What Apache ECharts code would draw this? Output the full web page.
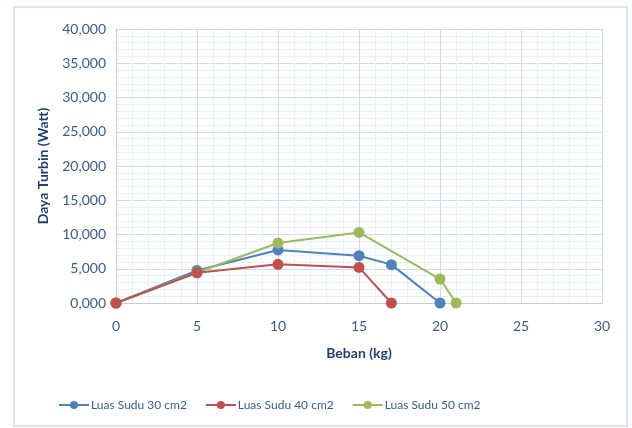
<!DOCTYPE html>
<html>
<head>
<meta charset="utf-8">
<script src="https://cdn.jsdelivr.net/npm/echarts@6/dist/echarts.min.js"></script>
<style>
  html, body { margin: 0; padding: 0; background: #fff; }
  #chart { width: 632px; height: 428px; }
</style>
</head>
<body>
<div id="chart"></div>
<script>
// Beban (kg) for each series and the measured turbine power (Watt)
const beban30 = [0, 5, 10, 15, 17, 20];
const daya30  = [0, 4.75, 7.75, 6.9, 5.6, 0];

const beban40 = [0, 5, 10, 15, 17];
const daya40  = [0, 4.4, 5.65, 5.2, 0];

const beban50 = [0, 5, 10, 15, 20, 21];
const daya50  = [0, 4.45, 8.75, 10.3, 3.5, 0];

const seriesNames = ['Luas Sudu 30 cm2', 'Luas Sudu 40 cm2', 'Luas Sudu 50 cm2'];
const seriesColors = ['#4f81bd', '#c0504d', '#9bbb59'];

const pairs = (xs, ys) => xs.map((x, i) => [x, ys[i]]);
const dataSets = [pairs(beban30, daya30), pairs(beban40, daya40), pairs(beban50, daya50)];

const textColor = '#3b5b8c';
const titleColor = '#1f3f73';
const font = 'Lato';

const chart = echarts.init(document.getElementById('chart'), null, { renderer: 'canvas' });

chart.setOption({
  backgroundColor: '#fff',
  animation: false,
  graphic: [{
    type: 'rect',
    shape: { x: 14, y: 7, width: 613, height: 419 },
    style: { fill: 'none', stroke: '#dbe5f3', lineWidth: 2 },
    silent: true
  }],
  grid: { left: 116, right: 30, top: 29, bottom: 125 },
  xAxis: {
    type: 'value',
    min: 0, max: 30, interval: 5,
    name: 'Beban (kg)',
    nameLocation: 'middle',
    nameGap: 43,
    nameTextStyle: { color: titleColor, fontWeight: 'bold', fontSize: 14, fontFamily: font },
    axisLine: { show: true, lineStyle: { color: '#b9cde5', width: 1 } },
    axisTick: { show: false },
    axisLabel: { color: textColor, fontSize: 14, fontFamily: font, margin: 16 },
    splitLine: { show: true, lineStyle: { color: '#cfdcef', width: 1 } },
    minorTick: { show: false, splitNumber: 5 },
    minorSplitLine: { show: true, lineStyle: { color: '#eaf0f9', width: 1 } }
  },
  yAxis: {
    type: 'value',
    min: 0, max: 40, interval: 5,
    name: 'Daya Turbin (Watt)',
    nameLocation: 'middle',
    nameGap: 66,
    nameRotate: 90,
    nameTextStyle: { color: titleColor, fontWeight: 'bold', fontSize: 14, fontFamily: font },
    axisLine: { show: true, lineStyle: { color: '#b9cde5', width: 1 } },
    axisTick: { show: false },
    axisLabel: {
      color: textColor, fontSize: 14, fontFamily: font, margin: 10,
      formatter: v => v.toFixed(3).replace('.', ',')
    },
    splitLine: { show: true, lineStyle: { color: '#cfdcef', width: 1 } },
    minorTick: { show: false, splitNumber: 5 },
    minorSplitLine: { show: true, lineStyle: { color: '#eaf0f9', width: 1 } }
  },
  legend: {
    bottom: 12,
    left: 53,
    itemGap: 18,
    itemWidth: 30,
    itemHeight: 10,
    textStyle: { color: textColor, fontSize: 12, fontFamily: font, padding: [0, 0, 0, -3] },
    data: seriesNames
  },
  series: seriesNames.map((name, i) => ({
    name,
    type: 'line',
    data: dataSets[i],
    symbol: 'circle',
    symbolSize: 11,
    lineStyle: { color: seriesColors[i], width: 2 },
    itemStyle: { color: seriesColors[i] },
    z: 3 + (i === 2 ? 0 : i)
  }))
});
</script>
</body>
</html>
